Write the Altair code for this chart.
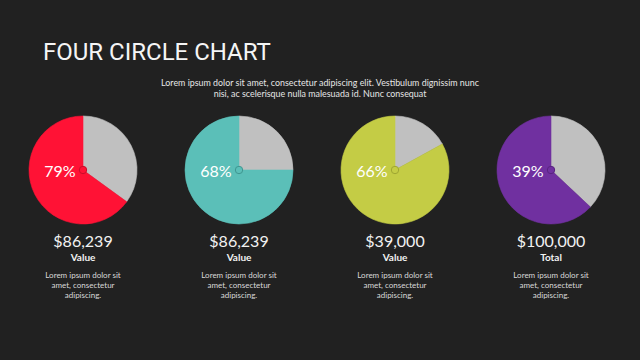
import altair as alt
import pandas as pd

# ---- data ----
pies = ["P1", "P2", "P3", "P4"]
pct_labels = ["79%", "68%", "66%", "39%"]
filled_share = [65, 75, 83, 63]          # coloured share of each circle as drawn
amounts = ["$86,239", "$86,239", "$39,000", "$100,000"]
captions = ["Value", "Value", "Value", "Total"]
descriptions = ["Lorem ipsum dolor sit", "amet, consectetur", "adipiscing."]
pie_colors = ["#FF1235", "#5BBFB8", "#C4CC45", "#7030A0"]
dot_strokes = ["#C80E2A", "#3F9690", "#9FA632", "#58237F"]
rest_color = "#C0C0C0"
title_text = "FOUR CIRCLE CHART"
subtitle_lines = [
    "Lorem ipsum dolor sit amet, consectetur adipiscing elit. Vestibulum dignissim nunc",
    "nisi, ac scelerisque nulla malesuada id. Nunc consequat",
]

BG = "#212121"

# arcs table: grey part from 12 o'clock clockwise, then the coloured part
rows = []
for p, f in zip(pies, filled_share):
    rows.append({"pie": p, "key": "rest", "start": 0, "end": 100 - f})
    rows.append({"pie": p, "key": p, "start": 100 - f, "end": 100})
arcs = pd.DataFrame(rows)

info = pd.DataFrame({
    "pie": pies,
    "pct": pct_labels,
    "amount": amounts,
    "caption": captions,
    "desc": [descriptions] * len(pies),
})

xscale = alt.Scale(domain=pies, range=[83, 551], padding=0)
X = alt.X("pie:N", scale=xscale, axis=None)
color_scale = alt.Scale(domain=pies + ["rest"], range=pie_colors + [rest_color])

arc_layer = alt.Chart(arcs).mark_arc(radius=54, strokeWidth=0.6).encode(
    x=X,
    y=alt.value(170),
    theta=alt.Theta("start:Q", scale=alt.Scale(domain=[0, 100]), stack=None),
    theta2="end:Q",
    color=alt.Color("key:N", scale=color_scale, legend=None),
    stroke=alt.Stroke("key:N", scale=color_scale, legend=None),
)

dot_layer = alt.Chart(info).mark_circle(size=55, opacity=1, strokeWidth=1).encode(
    x=X,
    y=alt.value(170),
    color=alt.Color("pie:N", scale=color_scale, legend=None),
    stroke=alt.Stroke("pie:N", scale=alt.Scale(domain=pies, range=dot_strokes), legend=None),
)

pct_layer = alt.Chart(info).mark_text(
    font="Lato", fontSize=16, color="white", dx=-23, baseline="middle", align="center"
).encode(x=X, y=alt.value(172), text="pct:N")

amount_layer = alt.Chart(info).mark_text(
    font="Lato", fontSize=16, color="#F2F2F2", baseline="middle", align="center"
).encode(x=X, y=alt.value(242), text="amount:N")

caption_layer = alt.Chart(info).mark_text(
    font="Lato", fontSize=10, fontWeight="bold", color="#F2F2F2", baseline="middle", align="center"
).encode(x=X, y=alt.value(258), text="caption:N")

desc_layer = alt.Chart(info).mark_text(
    font="Lato", fontSize=8, color="#D9D9D9", baseline="middle", align="center", lineHeight=10
).encode(x=X, y=alt.value(276), text="desc")

title_layer = alt.Chart(pd.DataFrame({"t": [title_text]})).mark_text(
    font="Roboto", fontSize=24, color="#F5F5F5", align="left", baseline="alphabetic"
).encode(x=alt.value(43), y=alt.value(59.5), text="t:N")

sub_layer = alt.Chart(pd.DataFrame({"t": [subtitle_lines]})).mark_text(
    font="Lato", fontSize=8.9, color="#E6E6E6", align="center", baseline="middle", lineHeight=11
).encode(x=alt.value(320), y=alt.value(83), text="t")

chart = alt.layer(
    arc_layer, dot_layer, pct_layer, amount_layer, caption_layer, desc_layer, title_layer, sub_layer
).resolve_scale(
    stroke="independent"
).properties(
    width=640, height=360, background=BG, padding=0, autosize=alt.AutoSizeParams(type="none")
).configure_view(stroke=None, fill=BG)

chart.save("out.html", embed_options={"renderer": "svg", "actions": False})
